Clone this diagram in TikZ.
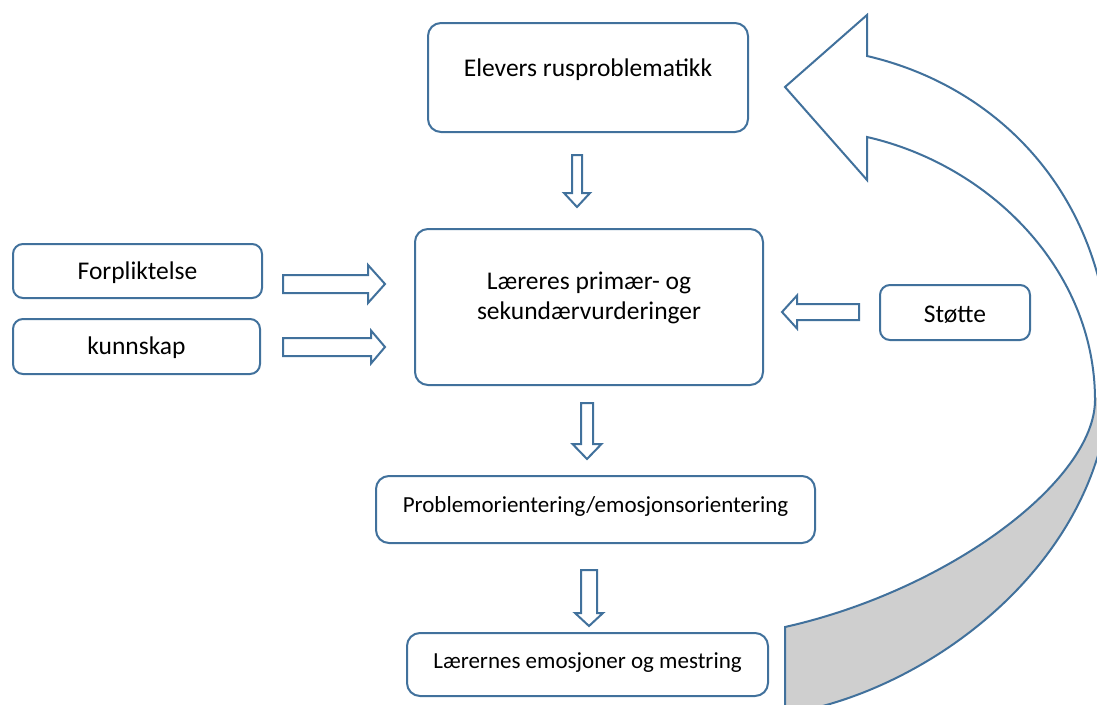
\documentclass[tikz,border=0pt]{standalone}
\usepackage{fontspec}
\setmainfont{Carlito}
\definecolor{frame}{RGB}{65,113,156}
\definecolor{backface}{RGB}{207,207,207}
\tikzset{
  box/.style={draw=frame, line width=2pt, rounded corners=13pt, fill=white, inner sep=0pt},
  txt/.style={inner sep=0pt, align=center, font=\fontsize{25.5}{30}\selectfont},
  smalltxt/.style={txt, font=\fontsize{23}{28}\selectfont},
  blockarrow/.style={draw=frame, line width=2pt, fill=white, line join=miter},
  returnarrow/.style={draw=frame, line width=2pt, line join=miter}
}
% block arrow: rotation, tail x, tail y, length, half shaft, half head, head length
\newcommand\blockarr[7]{%
  \draw[blockarrow, shift={(#2,#3)}, rotate=#1]
    (0,#5) -- ({#4-#7},#5) -- ({#4-#7},#6) -- (#4,0) -- ({#4-#7},-#6)
    -- ({#4-#7},-#5) -- (0,-#5) -- cycle;}
\begin{document}
\begin{tikzpicture}[x=1pt, y=-1pt]
  \clip (0,0) rectangle (1097,704);
  \fill[white] (0,0) rectangle (1097,704);

  % large curved return arrow
  \fill[backface] (1095,400) .. controls (1095,480) and (950,590) .. (785,627)
    -- (785,714) .. controls (930,692) and (1106,560) .. (1108,380) -- cycle;
  \draw[returnarrow] (785,714) -- (785,627)
    .. controls (950,590) and (1095,480) .. (1095,400)
    .. controls (1095,270) and (990,165) .. (867,137)
    -- (867,180) -- (785,87) -- (867,15) -- (867,56)
    .. controls (1005,88) and (1114,205) .. (1110,380)
    .. controls (1106,560) and (930,692) .. (785,714);

  % boxes
  \node[box, minimum width=320pt, minimum height=109pt] (elev) at (588,77.5) {};
  \node[box, minimum width=348pt, minimum height=156pt] (laer) at (589,307) {};
  \node[box, minimum width=249pt, minimum height=54pt, rounded corners=10pt] (forp) at (137.5,271) {};
  \node[box, minimum width=247pt, minimum height=55pt, rounded corners=10pt] (kunn) at (136.5,346.5) {};
  \node[box, minimum width=150pt, minimum height=55pt, rounded corners=10pt] (stot) at (955,312.5) {};
  \node[box, minimum width=439pt, minimum height=67pt] (prob) at (595.5,509.5) {};
  \node[box, minimum width=361pt, minimum height=63pt] (laern) at (587.5,664.5) {};

  % texts
  \node[txt] (elevt) at ([yshift=7.5pt]elev.center) {Elevers rusproblematikk};
  \node[txt] (laert) at ([yshift=9pt]laer.center) {Læreres primær- og\\sekundærvurderinger};
  \node[txt] (forpt) at ([yshift=-2pt]forp.center) {Forpliktelse};
  \node[txt] (kunnt) at ([yshift=-1.5pt]kunn.center) {kunnskap};
  \node[txt] (stott) at ([yshift=-2.5pt]stot.center) {Støtte};
  \node[smalltxt] (probt) at ([yshift=3.5pt]prob.center) {Problemorientering/emosjonsorientering};
  \node[smalltxt] (laernt) at ([yshift=1.5pt]laern.center) {Lærernes emosjoner og mestring};

  % block arrows between the boxes
  \blockarr{-90}{577}{155}{52}{5}{13}{14}
  \blockarr{-90}{587}{403}{56}{6}{14.5}{15}
  \blockarr{-90}{589}{570}{56}{8}{14}{13}
  \blockarr{0}{283}{284}{102}{9}{19}{17}
  \blockarr{0}{283}{347}{102}{9}{16.5}{14}
  \blockarr{180}{859}{312}{77}{8}{16.5}{15}
\end{tikzpicture}
\end{document}
